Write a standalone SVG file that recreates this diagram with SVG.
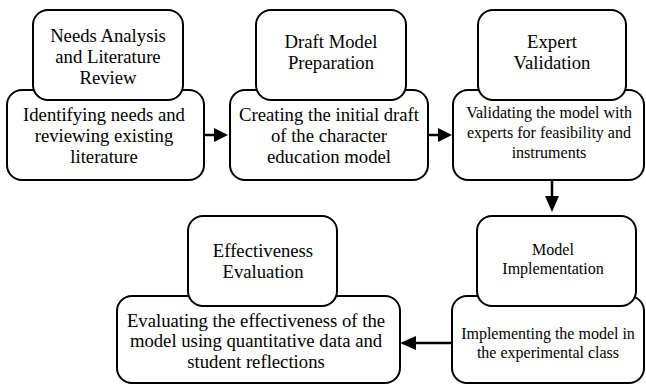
<svg xmlns="http://www.w3.org/2000/svg" width="646" height="385" viewBox="0 0 646 385">
<defs>
<style>
.box{fill:#fff;stroke:#000;stroke-width:2}
text{font-family:"Liberation Serif","Times New Roman","DejaVu Serif",serif;fill:#000;text-anchor:middle}
.l{font-size:18.7px}
.m{font-size:16px}
.c{stroke:#000;stroke-width:2.5;fill:none}
</style>
</defs>
<g id="connectors">
<line class="c" x1="204" y1="135" x2="214" y2="135"/>
<path d="M214,128 L228,135 L214,142 Z"/>
<line class="c" x1="428" y1="135" x2="438" y2="135"/>
<path d="M438,128 L452,135 L438,142 Z"/>
<line class="c" x1="552" y1="180" x2="552" y2="196"/>
<path d="M545,196 L552,212 L559,196 Z"/>
<line class="c" x1="452" y1="343" x2="416" y2="343"/>
<path d="M416,336 L400,343 L416,350 Z"/>
</g>
<g id="node1">
<rect class="box" x="7" y="90" width="197" height="90" rx="15"/>
<rect class="box" x="33" y="10" width="150" height="90" rx="15"/>
<text class="l" x="108" y="42">Needs Analysis</text>
<text class="l" x="108" y="63">and Literature</text>
<text class="l" x="108" y="84">Review</text>
<text class="l" x="104" y="121">Identifying needs and</text>
<text class="l" x="104" y="142">reviewing existing</text>
<text class="l" x="104" y="163">literature</text>
</g>
<g id="node2">
<rect class="box" x="230" y="90" width="198" height="90" rx="15"/>
<rect class="box" x="256" y="10" width="150" height="90" rx="15"/>
<text class="l" x="331" y="48">Draft Model</text>
<text class="l" x="331" y="69">Preparation</text>
<text class="l" x="329" y="121">Creating the initial draft</text>
<text class="l" x="329" y="142">of the character</text>
<text class="l" x="329" y="163">education model</text>
</g>
<g id="node3">
<rect class="box" x="453" y="90" width="191" height="90" rx="15"/>
<rect class="box" x="478" y="10" width="148" height="90" rx="15"/>
<text class="l" x="552" y="48">Expert</text>
<text class="l" x="552" y="69">Validation</text>
<text class="m" x="549" y="118">Validating the model with</text>
<text class="m" x="549" y="138">experts for feasibility and</text>
<text class="m" x="549" y="158">instruments</text>
</g>
<g id="node4">
<rect class="box" x="452" y="296" width="192" height="87" rx="15"/>
<rect class="box" x="477" y="216" width="159" height="90" rx="15"/>
<text class="m" x="553" y="255">Model</text>
<text class="m" x="553" y="274">Implementation</text>
<text class="m" x="548" y="339">Implementing the model in</text>
<text class="m" x="548" y="358">the experimental class</text>
</g>
<g id="node5">
<rect class="box" x="117" y="296" width="283" height="87" rx="15"/>
<rect class="box" x="188" y="216" width="149" height="90" rx="15"/>
<text class="l" x="263" y="257">Effectiveness</text>
<text class="l" x="263" y="278">Evaluation</text>
<text class="l" x="256" y="327">Evaluating the effectiveness of the</text>
<text class="l" x="256" y="347">model using quantitative data and</text>
<text class="l" x="256" y="368">student reflections</text>
</g>
</svg>
